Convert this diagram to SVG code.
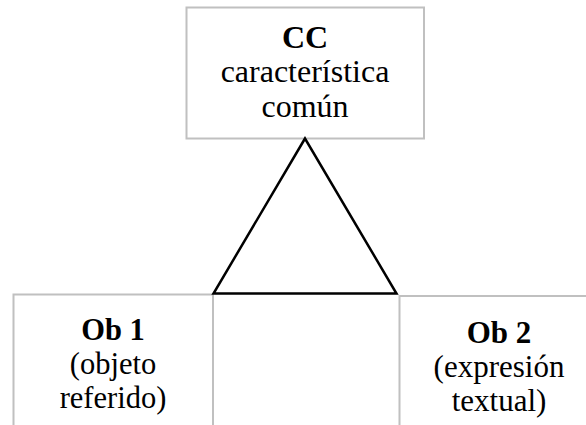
<svg xmlns="http://www.w3.org/2000/svg" width="586" height="425" viewBox="0 0 586 425">
<style>
.box{fill:#ffffff;stroke:#c0c0c0;stroke-width:2}
.t{font-family:'Liberation Serif','DejaVu Serif',serif;fill:#000000;text-anchor:middle}
.top{font-size:32px}
.bl{font-size:30.5px}
.br{font-size:31px}
.b{font-weight:bold}
.tri{fill:none;stroke:#000000;stroke-width:2.5;stroke-linejoin:miter}
</style>
<rect width="586" height="425" fill="#ffffff"/>
<g id="node-cc">
<rect class="box" x="186.5" y="7.5" width="237.5" height="131"/>
<text class="t top b" x="305" y="47.5">CC</text>
<text class="t top" x="305" y="82.3">característica</text>
<text class="t top" x="305" y="116.7">común</text>
</g>
<g id="node-ob1">
<rect class="box" x="13.5" y="294.5" width="199.5" height="140"/>
<text class="t bl b" x="113" y="339.5">Ob 1</text>
<text class="t bl" x="113" y="373.5">(objeto</text>
<text class="t bl" x="113" y="407.5">referido)</text>
</g>
<g id="node-ob2">
<rect class="box" x="399.5" y="296" width="210" height="140"/>
<text class="t br b" x="499" y="343">Ob 2</text>
<text class="t br" x="499" y="377">(expresión</text>
<text class="t br" x="499" y="411">textual)</text>
</g>
<g id="connectors">
<polygon class="tri" points="305,138.5 213.5,293.5 396.5,293.5"/>
</g>
</svg>
